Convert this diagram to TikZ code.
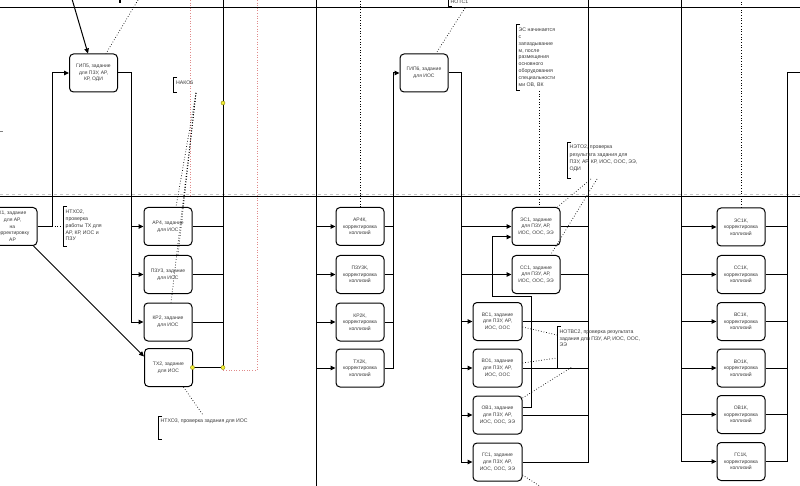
\documentclass[tikz,border=0pt]{standalone}
\usepackage{fontspec}
\setmainfont{Liberation Sans}
\usetikzlibrary{arrows.meta}
\definecolor{txt}{HTML}{3A3A3A}
\definecolor{rdc}{HTML}{E08A8A}
\definecolor{ydc}{HTML}{F2EE3A}
\begin{document}
\begin{tikzpicture}[x=1pt,y=-1pt,
  bx/.style={draw, rounded corners=4pt, line width=1pt, minimum width=48pt, minimum height=38pt, align=center, inner sep=1pt, font=\fontsize{5}{6.7}\selectfont, text=txt},
  arr/.style={-{Triangle[length=5pt,width=4.5pt]}},
  ln/.style={line width=1pt},
  dt/.style={dotted, line width=0.7pt},
  note/.style={align=left, inner sep=0pt, font=\fontsize{5.2}{6.9}\selectfont, text=txt},
  brk/.style={line width=1pt},
  rdot/.style={dotted, line width=0.6pt, rdc},
  ydot/.style={circle, fill=ydc, draw=olive, line width=0.4pt, inner sep=0pt, minimum size=4pt}
]
\useasboundingbox (0,0) rectangle (800,486);
\fill[white] (0,0) rectangle (800,486);

% lane lines
\draw[ln] (0,8) -- (800,8);
\draw[gray!45, dashed, line width=0.6pt] (0,194) -- (800,194);
\draw[ln] (0,197) -- (800,197);
\draw[rdot] (190,0) -- (190,197);
\draw[rdot] (257,0) -- (257,370) -- (223,370);
\draw[line width=0.6pt, gray] (0,131) -- (3,131);
\draw[line width=2pt] (120,0) -- (120,3);

% boxes
\node[bx, minimum width=49pt] (k1) at (12.5,226.5) {К1, задание\\для АР,\\на\\корректировку\\АР};
\node[bx] (gip5) at (93.5,73) {ГИП5, задание\\для ПЗУ, АР,\\КР, ОДИ};
\node[bx] (ar4) at (168,226.5) {АР4, задание\\для ИОС};
\node[bx] (pzu3) at (168,274.5) {ПЗУ3, задание\\для ИОС};
\node[bx] (kr2) at (168,322) {КР2, задание\\для ИОС};
\node[bx] (tx2) at (168.5,367.5) {ТХ2, задание\\для ИОС};
\node[bx] (gip6) at (424,73) {ГИП6, задание\\для ИОС};
\node[bx] (ar4k) at (360,226.5) {АР4К,\\корректировка\\коллизий};
\node[bx] (pzu3k) at (360,274.5) {ПЗУ3К,\\корректировка\\коллизий};
\node[bx] (kr2k) at (360,322) {КР2К,\\корректировка\\коллизий};
\node[bx] (tx2k) at (360,368) {ТХ2К,\\корректировка\\коллизий};
\node[bx] (es1) at (536,226.5) {ЭС1, задание\\для ПЗУ, АР,\\ИОС, ООС, ЭЭ};
\node[bx] (cc1) at (536,274.5) {СС1, задание\\для ПЗУ, АР,\\ИОС, ООС, ЭЭ};
\node[bx, minimum width=49pt] (vs1) at (497.5,321.5) {ВС1, задание\\для ПЗУ, АР,\\ИОС, ООС};
\node[bx, minimum width=49pt] (vo1) at (497.5,368) {ВО1, задание\\для ПЗУ, АР,\\ИОС, ООС};
\node[bx, minimum width=49pt] (ov1) at (497.5,415) {ОВ1, задание\\для ПЗУ, АР,\\ИОС, ООС, ЭЭ};
\node[bx, minimum width=49pt] (gc1) at (497.5,462) {ГС1, задание\\для ПЗУ, АР,\\ИОС, ООС, ЭЭ};
\node[bx] (es1k) at (741,227) {ЭС1К,\\корректировка\\коллизий};
\node[bx] (cc1k) at (741,274.5) {СС1К,\\корректировка\\коллизий};
\node[bx] (vs1k) at (741,321.5) {ВС1К,\\корректировка\\коллизий};
\node[bx] (vo1k) at (741,368) {ВО1К,\\корректировка\\коллизий};
\node[bx] (ov1k) at (741,414.5) {ОВ1К,\\корректировка\\коллизий};
\node[bx] (gc1k) at (741,461.5) {ГС1К,\\корректировка\\коллизий};

% helper coordinates
\coordinate (top) at (0,0);
\coordinate (x52) at (52,0);
\coordinate (x131) at (131,0);
\coordinate (x223) at (223,0);
\coordinate (x316) at (316,0);
\coordinate (x316b) at (316,486);
\coordinate (x393) at (393,0);
\coordinate (x461) at (461,0);
\coordinate (x588) at (588,0);
\coordinate (x681) at (681,0);
\coordinate (x787) at (787,73);
\coordinate (redge) at (800,73);
\coordinate (in5) at (72,-1);
\coordinate (d5) at (138,0);
\coordinate (j1) at (531,296);
\coordinate (j2) at (492,296);

% column 1-2
\draw[ln,arr] (in5) -- ([xshift=-5.5pt]gip5.north);
\draw[dt] (d5) -- ([xshift=12.5pt]gip5.north);
\draw[ln,arr] (k1.east) -| (x52 |- gip5.west) -- (gip5.west);
\draw[ln] (gip5.east) -| (x131 |- kr2.west);
\foreach \n in {ar4,pzu3,kr2} \draw[ln,arr] (x131 |- \n.west) -- (\n.west);
\draw[ln,arr] ([xshift=-4pt]k1.south east) -- ([yshift=-8.5pt]tx2.north west);
\draw[ln] (x223) -- (x223 |- tx2.east) -- (tx2.east);
\foreach \n in {ar4,pzu3,kr2} \draw[ln] (\n.east) -- (\n.east -| x223);

% column 3
\draw[ln] (x316) -- (x316b);
\foreach \n in {ar4k,pzu3k,kr2k,tx2k} \draw[ln,arr] (\n.west -| x316) -- (\n.west);
\draw[ln,arr] (tx2k.east) -| (x393 |- gip6.west) -- (gip6.west);
\foreach \n in {ar4k,pzu3k,kr2k} \draw[ln] (\n.east) -- (\n.east -| x393);
\draw[dt] (ar4k.north) -- (ar4k.north |- top);

% column 4-5
\draw[ln,arr] (gip6.east) -| (x461 |- gc1.west) -- (gc1.west);
\foreach \n in {es1,cc1,vs1,vo1,ov1} \draw[ln,arr] (x461 |- \n.west) -- (\n.west);
\draw[ln,arr] ([yshift=8pt]ov1.east) -| (j1) -- (j2) |- ([yshift=-10.5pt]es1.west);
\draw[ln] (x588) -- (x588 |- gc1.east) -- (gc1.east);
\foreach \n in {es1,cc1,vs1,vo1,ov1} \draw[ln] (\n.east) -- (\n.east -| x588);

% column 6
\draw[ln] (x681) -- (x681 |- gc1k.west);
\foreach \n in {es1k,cc1k,vs1k,vo1k,ov1k,gc1k} \draw[ln,arr] (x681 |- \n.west) -- (\n.west);
\draw[ln] (gc1k.east) -| (x787) -- (redge);
\foreach \n in {es1k,cc1k,vs1k,vo1k,ov1k} \draw[ln] (\n.east) -- (\n.east -| x787);
\draw[dt] (es1k.north) -- (es1k.north |- top);

% yellow points
\node[ydot] (y1) at (223,103) {};
\node[ydot] (y2) at (223,367.5) {};
\node[ydot] (y3) at (192.5,367.5) {};

% annotations
\draw[brk] (177,78) -- (173,78) -- (173,93) -- (177,93);
\node[note, anchor=west] (nako) at (176,83) {НАКО6};
\coordinate (nk) at (196,93);
\draw[dt] (nk) -- ([xshift=15pt]ar4.north);
\draw[dt] (nk) -- ([xshift=8pt]ar4.north);
\draw[dt] (nk) -- ([xshift=10pt]pzu3.north);
\draw[dt] (nk) -- ([xshift=3pt]kr2.north);

\draw[brk] (67,207) -- (63,207) -- (63,247) -- (67,247);
\node[note, anchor=north west] (ntxo2) at (65.5,209.5) {НТХО2,\\проверка\\работы ТХ для\\АР, КР, ИОС и\\ПЗУ};
\draw[dt] (k1.east -| x52) -- (ntxo2.west |- k1.east);

\draw[brk] (162,416) -- (158,416) -- (158,439) -- (162,439);
\node[note, anchor=west] (ntxo3) at (160.5,421) {НТХО3, проверка задания для ИОС};
\draw[dt] ([xshift=15pt]tx2.south) -- (203,415);

\draw[brk] (448,-3) -- (448,7) -- (452,7);
\node[note, anchor=west] (notc1) at (450.5,2) {НОТС1};
\draw[dt] (465,8) -- ([xshift=12pt]gip6.north);

\draw[brk] (520,25) -- (516,25) -- (516,91) -- (520,91);
\node[note, anchor=north west] (esn) at (518.5,27.5) {ЭС начинается\\с\\запаздывание\\м, после\\размещения\\основного\\оборудования\\специальности\\ми ОВ, ВК};
\draw[dt] (539,91) -- ([xshift=3pt]es1.north);

\draw[brk] (571,143) -- (567,143) -- (567,179) -- (571,179);
\node[note, anchor=north west, font=\fontsize{5.2}{7.3}\selectfont] (neto2) at (569.5,145) {НЭТО2, проверка\\результата задания для\\ПЗУ, АР, КР, ИОС, ООС, ЭЭ,\\ОДИ};
\draw[dt] (591,179) -- ([xshift=-3pt]es1.north east);
\draw[dt] (597,179) -- ([xshift=-10pt]cc1.north east);

\draw[brk] (561,326) -- (557,326) -- (557,368) -- (561,368);
\node[note, anchor=north west, font=\fontsize{5.2}{6.7}\selectfont] (notvs2) at (559.5,329.5) {НОТВС2, проверка результата\\задания для ПЗУ, АР, ИОС, ООС,\\ЭЭ};
\draw[dt] ([yshift=-5.5pt]vs1.east) -- (557,335);
\draw[dt] ([yshift=5pt]vo1.east) -- (557,358);
\draw[dt] ([yshift=17pt]ov1.east) -- (572,367);
\draw[dt] ([yshift=-13pt]gc1.east) -- (546,490);
\end{tikzpicture}
\end{document}
